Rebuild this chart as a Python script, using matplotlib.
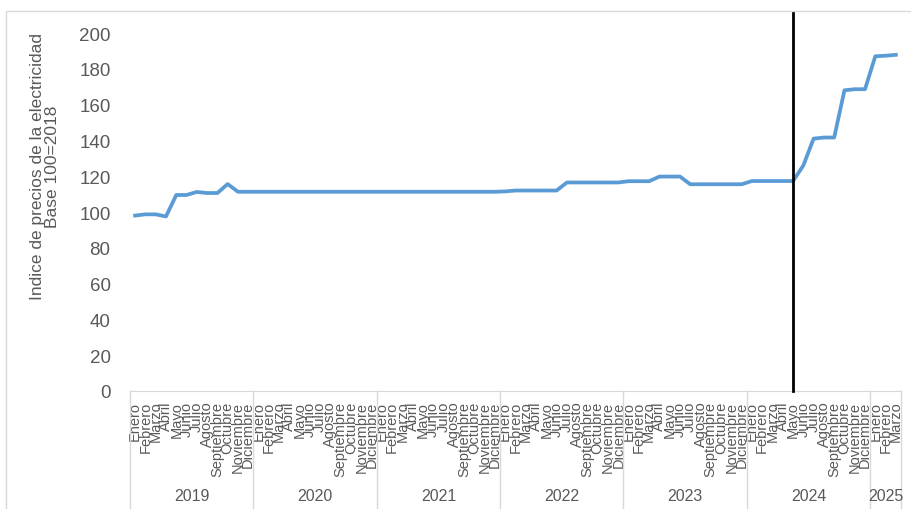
import matplotlib
matplotlib.use("Agg")
import matplotlib.pyplot as plt
import matplotlib.transforms as mtransforms
from matplotlib.lines import Line2D
from matplotlib.patches import Rectangle

plt.rcParams["font.family"] = ["Liberation Sans", "DejaVu Sans"]

# ── Data ──────────────────────────────────────────────────────────────────────
MONTHS = ["Enero", "Febrero", "Marzo", "Abril", "Mayo", "Junio", "Julio",
          "Agosto", "Septiembre", "Octubre", "Noviembre", "Diciembre"]
YEARS = ["2019", "2020", "2021", "2022", "2023", "2024", "2025"]
MONTHS_PER_YEAR = [12, 12, 12, 12, 12, 12, 3]

v2019 = [98.0, 98.7, 98.7, 97.5, 109.5, 109.5, 111.2, 110.6, 110.6, 115.6, 111.3, 111.3]
v2020 = [111.3, 111.3, 111.3, 111.3, 111.3, 111.3, 111.3, 111.3, 111.3, 111.3, 111.3, 111.3]
v2021 = [111.3, 111.3, 111.3, 111.3, 111.3, 111.3, 111.3, 111.3, 111.3, 111.3, 111.3, 111.3]
v2022 = [111.5, 112.0, 112.0, 112.0, 112.0, 112.0, 116.5, 116.5, 116.5, 116.5, 116.5, 116.5]
v2023 = [117.2, 117.2, 117.2, 119.8, 119.8, 119.8, 115.5, 115.5, 115.5, 115.5, 115.5, 115.5]
v2024 = [117.3, 117.3, 117.3, 117.3, 117.3, 126.0, 141.0, 141.6, 141.6, 168.0, 168.6, 168.6]
v2025 = [187.0, 187.3, 187.8]

MARK_MONTH = ("2024", "Mayo")   # black vertical marker

GRAY_TXT = "#595959"
GRAY_LN = "#d9d9d9"
BLUE = "#5b9bd5"


def main():
    values = v2019 + v2020 + v2021 + v2022 + v2023 + v2024 + v2025
    labels = []
    for y, n in zip(YEARS, MONTHS_PER_YEAR):
        labels += MONTHS[:n]
    x = list(range(len(values)))

    W, H = 912, 510
    fig = plt.figure(figsize=(W / 100, H / 100), dpi=100)
    fig.patch.set_facecolor("white")
    ax = fig.add_axes([130 / W, 1 - 392 / H, (901 - 130) / W, (392 - 34) / H])

    ax.plot(x, values, color=BLUE, lw=2.7, solid_joinstyle="round")

    # vertical marker line
    idx = sum(MONTHS_PER_YEAR[:YEARS.index(MARK_MONTH[0])]) + MONTHS.index(MARK_MONTH[1])
    ax.plot([idx, idx], [0, 212], color="black", lw=2, clip_on=False, zorder=5)

    ax.set_xlim(-0.5, len(values) - 0.5)
    ax.set_ylim(0, 200)
    ax.set_yticks(range(0, 201, 20))
    ax.tick_params(axis="y", length=0, pad=14, labelsize=13.5, labelcolor=GRAY_TXT)
    ax.set_xticks(x)
    ax.set_xticklabels(labels, rotation=90, fontsize=10.5, color=GRAY_TXT, va="top")
    ax.tick_params(axis="x", length=0, pad=7)
    for s in ["top", "right", "left"]:
        ax.spines[s].set_visible(False)
    ax.spines["bottom"].set_color(GRAY_LN)

    # year separators and labels
    bt = mtransforms.blended_transform_factory(ax.transData, fig.transFigure)
    ybot = 1 - 392 / H
    pos = -0.5
    bounds = [pos]
    for n in MONTHS_PER_YEAR:
        pos += n
        bounds.append(pos)
    for b in bounds:
        fig.add_artist(Line2D([b, b], [0, ybot], transform=bt, color=GRAY_LN, lw=1))
    for yr, b0, b1 in zip(YEARS, bounds[:-1], bounds[1:]):
        fig.text((b0 + b1) / 2, 1 - 497 / H, yr, transform=bt, ha="center",
                 va="center", fontsize=11.5, color=GRAY_TXT)

    fig.text(45 / W, 1 - 167 / H,
             "Indice de precios de la electricidad\nBase 100=2018",
             rotation=90, ha="center", va="center", multialignment="center",
             fontsize=12.5, color=GRAY_TXT, linespacing=0.95)

    # chart-area frame
    fig.add_artist(Rectangle((6 / W, -0.05), 1.0, 1 - 12 / H + 0.05,
                             transform=fig.transFigure, fill=False,
                             edgecolor=GRAY_LN, lw=1))

    fig.savefig("out.png", dpi=100, facecolor="white")


if __name__ == "__main__":
    main()
